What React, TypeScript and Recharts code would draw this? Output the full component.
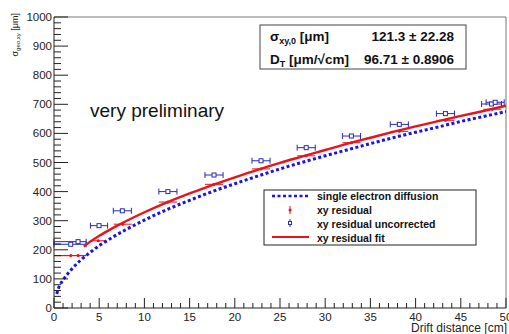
import React from "react";
import {
  ComposedChart,
  Line,
  Scatter,
  ErrorBar,
  XAxis,
  YAxis,
  ReferenceLine,
} from "recharts";

// drift distance [cm] -> sigma [um]
const diffusionX = [0.3, 0.5, 1, 1.5, 2, 3, 4, 5, 6, 8, 10, 12.5, 15, 17.5, 20, 22.5, 25, 27.5, 30, 32.5, 35, 37.5, 40, 42.5, 45, 47.5, 50];
const diffusionY = [48, 68, 96, 117, 135, 166, 191, 214, 234, 270, 302, 338, 370, 400, 427, 453, 478, 501, 523, 544, 565, 585, 604, 622, 641, 658, 675];

const fitX = [3.3, 4, 5, 6, 7, 8, 10, 12.5, 15, 17.5, 20, 22.5, 25, 27.5, 30, 32.5, 35, 37.5, 40, 42.5, 45, 47.5, 50];
const fitY = [211, 228, 248, 266, 283, 299, 329, 363, 394, 422, 449, 475, 499, 521, 543, 565, 585, 605, 624, 642, 660, 677, 695];

const resX = [1.85, 2.66, 4.9, 7.6, 12.6, 17.7, 22.9, 27.9, 32.9, 38.2, 43.3, 48.5];
const resY = [180, 180, 231, 288, 364, 425, 478, 523, 568, 607, 645, 683];
const resErr: (number | number[])[] = [[1.85, 1.7], [2.66, 0.9], 0.9, 1, 1, 1, 1, 1, 1, 1, 1, 1];

const uncX = [1.85, 2.66, 4.98, 7.56, 12.6, 17.7, 22.9, 27.9, 32.9, 38.2, 43.3, 48.4, 48.8];
const uncY = [219, 228, 283, 334, 400, 457, 506, 551, 591, 631, 668, 701, 707];
const uncErr: (number | number[])[] = [[1.85, 1.7], [2.66, 0.9], 0.95, 1, 1, 1, 1, 1, 1, 1, 1, 1.1, 1];

const xTicks = Array.from({ length: 51 }, (_, i) => i);
const yTicks = Array.from({ length: 51 }, (_, i) => i * 20);

const diffusion = diffusionX.map((x, i) => ({ x, y: diffusionY[i] }));
const fit = fitX.map((x, i) => ({ x, y: fitY[i] }));
const residual = resX.map((x, i) => ({ x, y: resY[i], ex: resErr[i], ey: 4 }));
const uncorrected = uncX.map((x, i) => ({ x, y: uncY[i], ex: uncErr[i], ey: 3 }));

const FONT = "'Liberation Sans', Arial, Helvetica, sans-serif";
const BLUE = "#1414f0";
const NAVY = "#2a2ab4";
const RED = "#e8141c";

const XTick = (props: any) => {
  const { x, y, payload } = props;
  const v = payload.value;
  const major = v % 5 === 0;
  return (
    <g>
      <line x1={x} y1={y} x2={x} y2={y - (major ? 10 : 5)} stroke="#222" />
      {major && (
        <text x={x} y={y + 12.5} textAnchor="middle" fontSize={11.5} fontFamily={FONT} fill="#222">
          {v}
        </text>
      )}
    </g>
  );
};

const YTick = (props: any) => {
  const { x, y, payload } = props;
  const v = payload.value;
  const major = v % 100 === 0;
  return (
    <g>
      <line x1={x} y1={y} x2={x + (major ? 14 : 7)} y2={y} stroke="#222" />
      {major && (
        <text x={x - 2} y={y + 4} textAnchor="end" fontSize={11.5} fontFamily={FONT} fill="#222">
          {v}
        </text>
      )}
    </g>
  );
};

const square = (p: any) => (
  <rect x={p.cx - 2} y={p.cy - 2} width={4} height={4} fill="#fff" stroke={NAVY} strokeWidth={1} />
);
const dot = (p: any) => <circle cx={p.cx} cy={p.cy} r={1.5} fill={RED} />;

export default function App() {
  return (
    <div style={{ position: "absolute", left: 0, top: 0, width: 509, height: 334, background: "#fff" }}>
      <ComposedChart width={509} height={334} margin={{ top: 17, right: 3, bottom: 0, left: 0 }}>
        <XAxis
          dataKey="x"
          type="number"
          domain={[0, 50]}
          ticks={xTicks}
          interval={0}
          height={26}
          tickSize={0}
          tickMargin={0}
          tickLine={false}
          tick={XTick}
          axisLine={{ stroke: "#222" }}
          allowDataOverflow
        />
        <YAxis
          type="number"
          domain={[0, 1000]}
          ticks={yTicks}
          interval={0}
          width={54}
          tickSize={0}
          tickMargin={0}
          tickLine={false}
          tick={YTick}
          axisLine={{ stroke: "#222" }}
          allowDataOverflow
        />
        <ReferenceLine y={1000} stroke="#777" />
        <ReferenceLine x={50} stroke="#777" />
        <Scatter data={uncorrected} dataKey="y" shape={square} isAnimationActive={false}>
          <ErrorBar dataKey="ex" direction="x" width={3} stroke={NAVY} strokeWidth={1} />
          <ErrorBar dataKey="ey" direction="y" width={0} stroke={NAVY} strokeWidth={1} />
        </Scatter>
        <Scatter data={residual} dataKey="y" shape={dot} isAnimationActive={false}>
          <ErrorBar dataKey="ex" direction="x" width={0} stroke={RED} strokeWidth={1} />
          <ErrorBar dataKey="ey" direction="y" width={0} stroke={RED} strokeWidth={1} />
        </Scatter>
        <Line
          data={diffusion}
          dataKey="y"
          type="monotone"
          stroke={BLUE}
          strokeWidth={3}
          strokeDasharray="3 2.5"
          dot={false}
          isAnimationActive={false}
        />
        <Line
          data={fit}
          dataKey="y"
          type="monotone"
          stroke={RED}
          strokeWidth={2.4}
          dot={false}
          isAnimationActive={false}
        />
        <text x={90} y={117} fontSize={19} fontFamily={FONT} fill="#111">
          very preliminary
        </text>
        <text
          x={18}
          y={13}
          textAnchor="end"
          transform="rotate(-90, 18, 13)"
          fontSize={9}
          fontFamily={FONT}
          fill="#222"
        >
          σ<tspan fontSize={6} dy={2}>geo,xy</tspan>
          <tspan dy={-2}> [μm]</tspan>
        </text>
        <text x={507} y={332} textAnchor="end" fontSize={12} fontFamily={FONT} fill="#222">
          Drift distance [cm]
        </text>
        {/* fit parameters box */}
        <g fontFamily={FONT} fontWeight="bold" fill="#111">
          <rect x={260} y={25} width={206} height={44} fill="#fff" stroke="#444" />
          <text x={270} y={41} fontSize={13.5}>
            σ<tspan fontSize={9} dy={3}>xy,0</tspan>
            <tspan dy={-3}> [μm]</tspan>
          </text>
          <text x={454} y={41} fontSize={13.5} textAnchor="end">121.3 ± 22.28</text>
          <text x={270} y={64} fontSize={13.5}>
            D<tspan fontSize={9} dy={3}>T</tspan>
            <tspan dy={-3}> [μm/√cm]</tspan>
          </text>
          <text x={454} y={64} fontSize={13.5} textAnchor="end">96.71 ± 0.8906</text>
        </g>
        {/* legend */}
        <g fontFamily={FONT} fontWeight="bold" fontSize={10.5} fill="#111">
          <rect x={264} y={190} width={212} height={55} fill="#fff" stroke="#222" />
          <line x1={272} y1={196} x2={309} y2={196} stroke={BLUE} strokeWidth={2.5} strokeDasharray="3 2.5" />
          <text x={317} y={200}>single electron diffusion</text>
          <line x1={290} y1={206} x2={290} y2={214} stroke={RED} />
          <circle cx={290} cy={210} r={1.5} fill={RED} />
          <text x={317} y={214}>xy residual</text>
          <line x1={290} y1={219} x2={290} y2={227} stroke={NAVY} />
          <rect x={288.5} y={221.5} width={3} height={3} fill="#fff" stroke={NAVY} />
          <text x={317} y={227.5}>xy residual uncorrected</text>
          <line x1={272} y1={237} x2={309} y2={237} stroke={RED} strokeWidth={2} />
          <text x={317} y={241.5}>xy residual fit</text>
        </g>
      </ComposedChart>
    </div>
  );
}
